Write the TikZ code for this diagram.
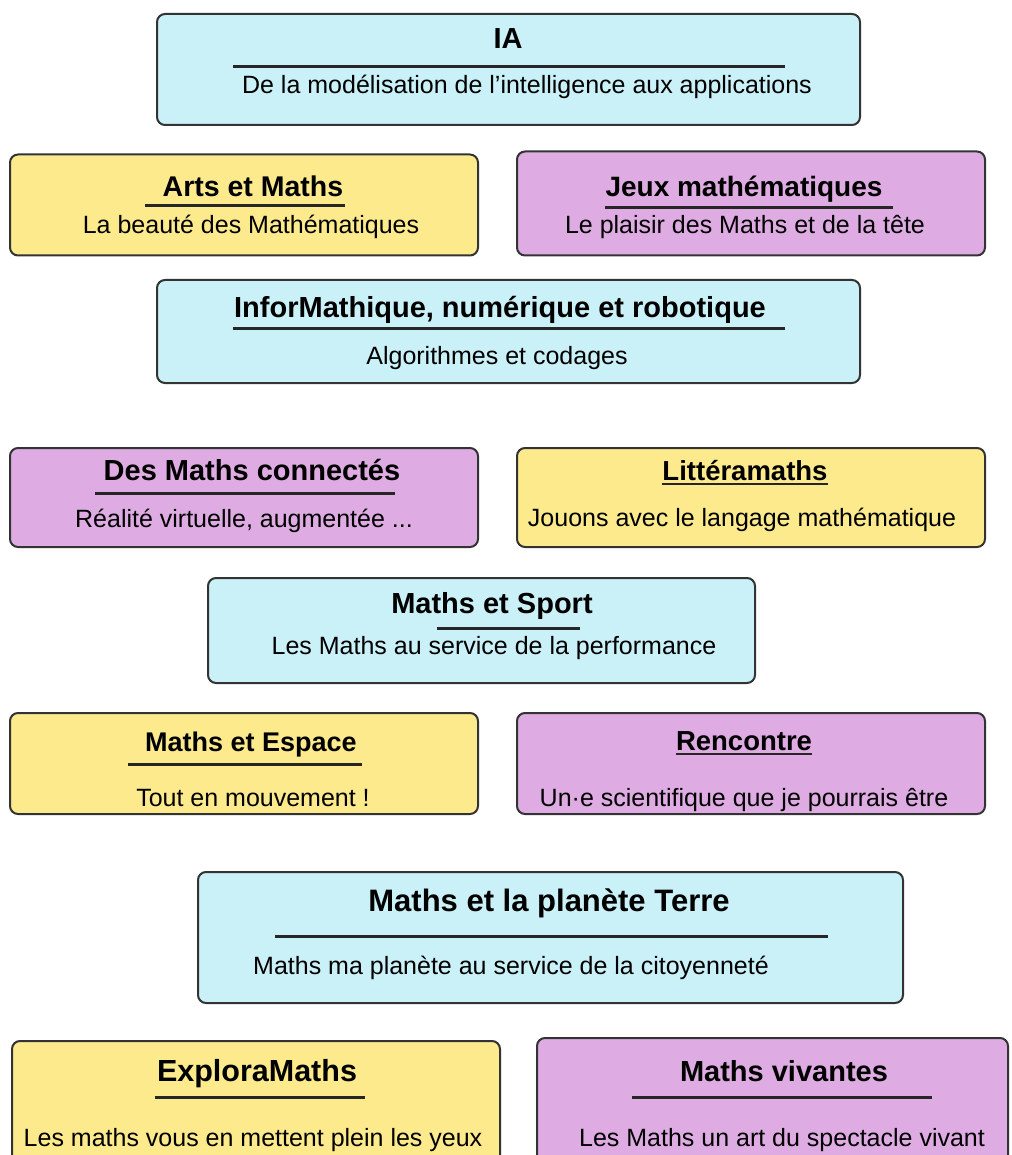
\documentclass[tikz,border=0pt]{standalone}
\usepackage{fontspec}
\setmainfont{Liberation Sans}
\usetikzlibrary{positioning}
\definecolor{bleu}{RGB}{202,240,248}
\definecolor{jaune}{RGB}{253,234,140}
\definecolor{mauve}{RGB}{222,172,226}
\newcommand{\taille}[1]{\fontsize{#1}{#1}\selectfont\bfseries}
\tikzstyle{cadre}=[rectangle,rounded corners=8pt,draw=black!80,line width=2pt]
\tikzstyle{titre}=[anchor=base,inner sep=0pt,font=\taille{29}]
\tikzstyle{soustitre}=[anchor=base,inner sep=0pt,font=\fontsize{25}{30}\selectfont]
\tikzstyle{trait}=[line width=3pt,black!85]
\tikzstyle{souligne}=[line width=2pt,black!85]
\begin{document}
\begin{tikzpicture}[x=1pt,y=-1pt]
\useasboundingbox (0,0) rectangle (1011,1155);
\clip (0,0) rectangle (1011,1155);
% IA
\node[cadre,fill=bleu,minimum width=703pt,minimum height=111pt] (IA) at (508.5,69.5) {};
\node[titre] (IAt) at (508,49) {IA};
\node[soustitre] (IAs) at (527,94) {De la modélisation de l’intelligence aux applications};
\draw[trait](233,67)--(785,67);
% Arts et Jeux
\node[cadre,fill=jaune,minimum width=468pt,minimum height=101pt] (AR) at (244,205) {};
\node[titre,font=\taille{28.5}] (ARt) at (253,197) {Arts et Maths};
\node[soustitre] (ARs) at (251,234) {La beauté des Mathématiques};
\draw[trait](145,206)--(345,206);
\node[cadre,fill=mauve,minimum width=468pt,minimum height=104pt] (JE) at (751,203.5) {};
\node[titre,font=\taille{28}] (JEt) at (744,197) {Jeux mathématiques};
\node[soustitre] (JEs) at (745,234) {Le plaisir des Maths et de la tête};
\draw[trait](605,208)--(893,208);
% InforMathique
\node[cadre,fill=bleu,minimum width=703pt,minimum height=103pt] (IN) at (508.5,331.5) {};
\node[titre] (INt) at (500,317) {InforMathique, numérique et robotique};
\node[soustitre] (INs) at (497,364) {Algorithmes et codages};
\draw[trait](233,328)--(785,328);
% Connectes et Litteramaths
\node[cadre,fill=mauve,minimum width=468pt,minimum height=99pt] (CO) at (244,497.5) {};
\node[titre] (COt) at (252,480) {Des Maths connectés};
\node[soustitre] (COs) at (244,527) {Réalité virtuelle, augmentée ...};
\draw[trait](95,493)--(395,493);
\node[cadre,fill=jaune,minimum width=468pt,minimum height=99pt] (LI) at (751,497.5) {};
\node[titre,font=\taille{27.5}] (LIt) at (745,480) {Littéramaths};
\node[soustitre] (LIs) at (742,526) {Jouons avec le langage mathématique};
\draw[souligne]([yshift=-4pt]LIt.south west)--([yshift=-4pt]LIt.south east);
% Sport
\node[cadre,fill=bleu,minimum width=547pt,minimum height=105pt] (SP) at (481.5,630.5) {};
\node[titre] (SPt) at (492,613) {Maths et Sport};
\node[soustitre] (SPs) at (494,654) {Les Maths au service de la performance};
\draw[trait](437,628)--(580,628);
% Espace et Rencontre
\node[cadre,fill=jaune,minimum width=468pt,minimum height=101pt] (ES) at (244,763.5) {};
\node[titre,font=\taille{27}] (ESt) at (251,751) {Maths et Espace};
\node[soustitre] (ESs) at (253,806) {Tout en mouvement !};
\draw[trait](128,764)--(362,764);
\node[cadre,fill=mauve,minimum width=468pt,minimum height=101pt] (RE) at (751,763.5) {};
\node[titre,font=\taille{27.5}] (REt) at (744,750) {Rencontre};
\node[soustitre] (REs) at (744,806) {Un·e scientifique que je pourrais être};
\draw[souligne]([yshift=-4pt]REt.south west)--([yshift=-4pt]REt.south east);
% Terre
\node[cadre,fill=bleu,minimum width=705pt,minimum height=131pt] (TE) at (550.5,937.5) {};
\node[titre,font=\taille{31}] (TEt) at (549,911) {Maths et la planète Terre};
\node[soustitre] (TEs) at (511,974) {Maths ma planète au service de la citoyenneté};
\draw[trait](275,936)--(828,936);
% Explora et Vivantes
\node[cadre,fill=jaune,minimum width=488pt,minimum height=134pt] (EX) at (256,1108) {};
\node[titre,font=\taille{30.5}] (EXt) at (257,1081) {ExploraMaths};
\node[soustitre] (EXs) at (253,1146) {Les maths vous en mettent plein les yeux};
\draw[trait](155,1097)--(365,1097);
\node[cadre,fill=mauve,minimum width=471pt,minimum height=137pt] (VI) at (772.5,1106.5) {};
\node[titre] (VIt) at (784,1081) {Maths vivantes};
\node[soustitre] (VIs) at (782,1146) {Les Maths un art du spectacle vivant};
\draw[trait](632,1097)--(932,1097);
\end{tikzpicture}
\end{document}
